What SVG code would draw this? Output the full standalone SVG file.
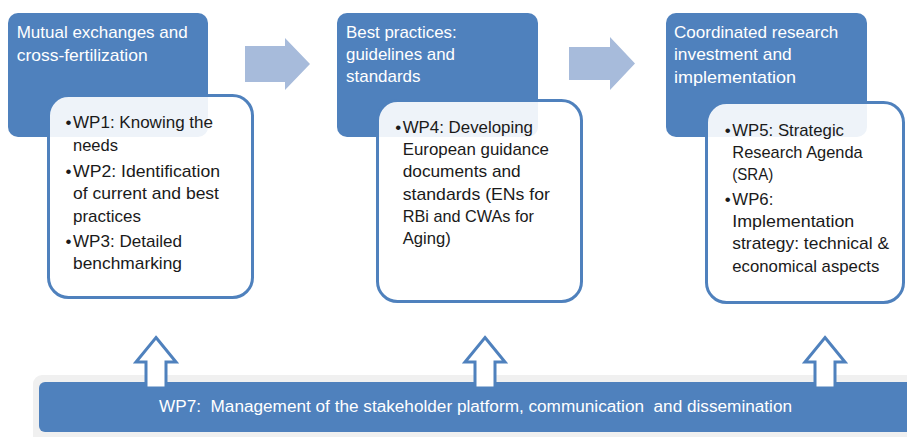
<svg xmlns="http://www.w3.org/2000/svg" width="907" height="437" viewBox="0 0 907 437">
<style>
.dark{fill:#4f81bd}
.card{fill:#ffffff;fill-opacity:0.9;stroke:#4f81bd;stroke-width:3}
.hd{font-family:"Liberation Sans",Arial,sans-serif;font-size:17px;fill:#ffffff}
.bd{font-family:"Liberation Sans",Arial,sans-serif;font-size:17px;fill:#1a1a1a}
.band{font-family:"Liberation Sans",Arial,sans-serif;font-size:16px;fill:#ffffff;white-space:pre}
.flow{fill:#a7bbdb}
.up{fill:#ffffff;stroke:#4f81bd;stroke-width:3;stroke-linejoin:miter}
</style>
<defs>
<path id="uparrow" d="M0,337.5 L20,362 L10,362 L10,388 L-10,388 L-10,362 L-20,362 Z"/>
</defs>
<rect width="907" height="437" fill="#ffffff"/>

<g id="wp7-platform">
<rect x="33" y="375" width="890" height="70" rx="9" fill="#f0f0f0"/>
<rect x="39" y="382" width="880" height="50" rx="6" class="dark"/>
<text class="band" x="159" y="411.5" textLength="633" lengthAdjust="spacingAndGlyphs">WP7:  Management of the stakeholder platform, communication  and dissemination</text>
</g>

<g id="connectors">
<path class="flow" d="M245,46 L285,46 L285,38 L310,64 L285,90 L285,82 L245,82 Z"/>
<path class="flow" d="M569,47 L610,47 L610,37 L635,63.5 L610,90 L610,80 L569,80 Z"/>
<use href="#uparrow" class="up" x="156"/>
<use href="#uparrow" class="up" x="485"/>
<use href="#uparrow" class="up" x="825"/>
</g>

<g id="stage1">
<rect x="8" y="13" width="200" height="124" rx="10" class="dark"/>
<text class="hd" x="16.7" y="38.3" textLength="171" lengthAdjust="spacingAndGlyphs">Mutual exchanges and</text>
<text class="hd" x="16.7" y="61" textLength="131" lengthAdjust="spacingAndGlyphs">cross-fertilization</text>
<rect x="48.5" y="95.5" width="204" height="202" rx="20" class="card"/>
<text class="bd" x="65.5" y="128">•</text>
<text class="bd" x="65.5" y="176.7">•</text>
<text class="bd" x="65.5" y="246.7">•</text>
<text class="bd" x="73" y="128" textLength="140" lengthAdjust="spacingAndGlyphs">WP1: Knowing the</text>
<text class="bd" x="73" y="150.7" textLength="45" lengthAdjust="spacingAndGlyphs">needs</text>
<text class="bd" x="73" y="176.7" textLength="147" lengthAdjust="spacingAndGlyphs">WP2: Identification</text>
<text class="bd" x="73" y="199" textLength="146" lengthAdjust="spacingAndGlyphs">of current and best</text>
<text class="bd" x="73" y="221.7" textLength="68" lengthAdjust="spacingAndGlyphs">practices</text>
<text class="bd" x="73" y="246.7" textLength="109" lengthAdjust="spacingAndGlyphs">WP3: Detailed</text>
<text class="bd" x="73" y="269" textLength="109" lengthAdjust="spacingAndGlyphs">benchmarking</text>
</g>

<g id="stage2">
<rect x="337" y="13" width="201" height="124" rx="10" class="dark"/>
<text class="hd" x="346" y="37.7" textLength="110.7" lengthAdjust="spacingAndGlyphs">Best practices:</text>
<text class="hd" x="346" y="60" textLength="109" lengthAdjust="spacingAndGlyphs">guidelines and</text>
<text class="hd" x="346" y="82.3" textLength="74.5" lengthAdjust="spacingAndGlyphs">standards</text>
<rect x="377.5" y="100.5" width="204" height="201" rx="20" class="card"/>
<text class="bd" x="395.2" y="132.7">•</text>
<text class="bd" x="402.7" y="132.7" textLength="130.3" lengthAdjust="spacingAndGlyphs">WP4: Developing</text>
<text class="bd" x="402.7" y="155" textLength="146.3" lengthAdjust="spacingAndGlyphs">European guidance</text>
<text class="bd" x="402.7" y="177.3" textLength="118" lengthAdjust="spacingAndGlyphs">documents and</text>
<text class="bd" x="402.7" y="200" textLength="147.3" lengthAdjust="spacingAndGlyphs">standards (ENs for</text>
<text class="bd" x="402.7" y="222.3" textLength="131.3" lengthAdjust="spacingAndGlyphs">RBi and CWAs for</text>
<text class="bd" x="402.7" y="244.3" textLength="48" lengthAdjust="spacingAndGlyphs">Aging)</text>
</g>

<g id="stage3">
<rect x="666" y="13" width="201" height="124" rx="10" class="dark"/>
<text class="hd" x="674" y="37.7" textLength="164.3" lengthAdjust="spacingAndGlyphs">Coordinated research</text>
<text class="hd" x="674" y="60" textLength="117.7" lengthAdjust="spacingAndGlyphs">investment and</text>
<text class="hd" x="674" y="82.7" textLength="122" lengthAdjust="spacingAndGlyphs">implementation</text>
<rect x="706.5" y="102.5" width="197" height="200" rx="20" class="card"/>
<text class="bd" x="724.8" y="135.7">•</text>
<text class="bd" x="724.8" y="205">•</text>
<text class="bd" x="732.3" y="135.7" textLength="111.7" lengthAdjust="spacingAndGlyphs">WP5: Strategic</text>
<text class="bd" x="732.3" y="157.7" textLength="130.4" lengthAdjust="spacingAndGlyphs">Research Agenda</text>
<text class="bd" x="732.3" y="180" textLength="41" lengthAdjust="spacingAndGlyphs">(SRA)</text>
<text class="bd" x="732.3" y="205" textLength="41" lengthAdjust="spacingAndGlyphs">WP6:</text>
<text class="bd" x="732.3" y="227.3" textLength="122" lengthAdjust="spacingAndGlyphs">Implementation</text>
<text class="bd" x="732.3" y="249.3" textLength="156.7" lengthAdjust="spacingAndGlyphs">strategy: technical &amp;</text>
<text class="bd" x="732.3" y="271.7" textLength="147" lengthAdjust="spacingAndGlyphs">economical aspects</text>
</g>
</svg>
